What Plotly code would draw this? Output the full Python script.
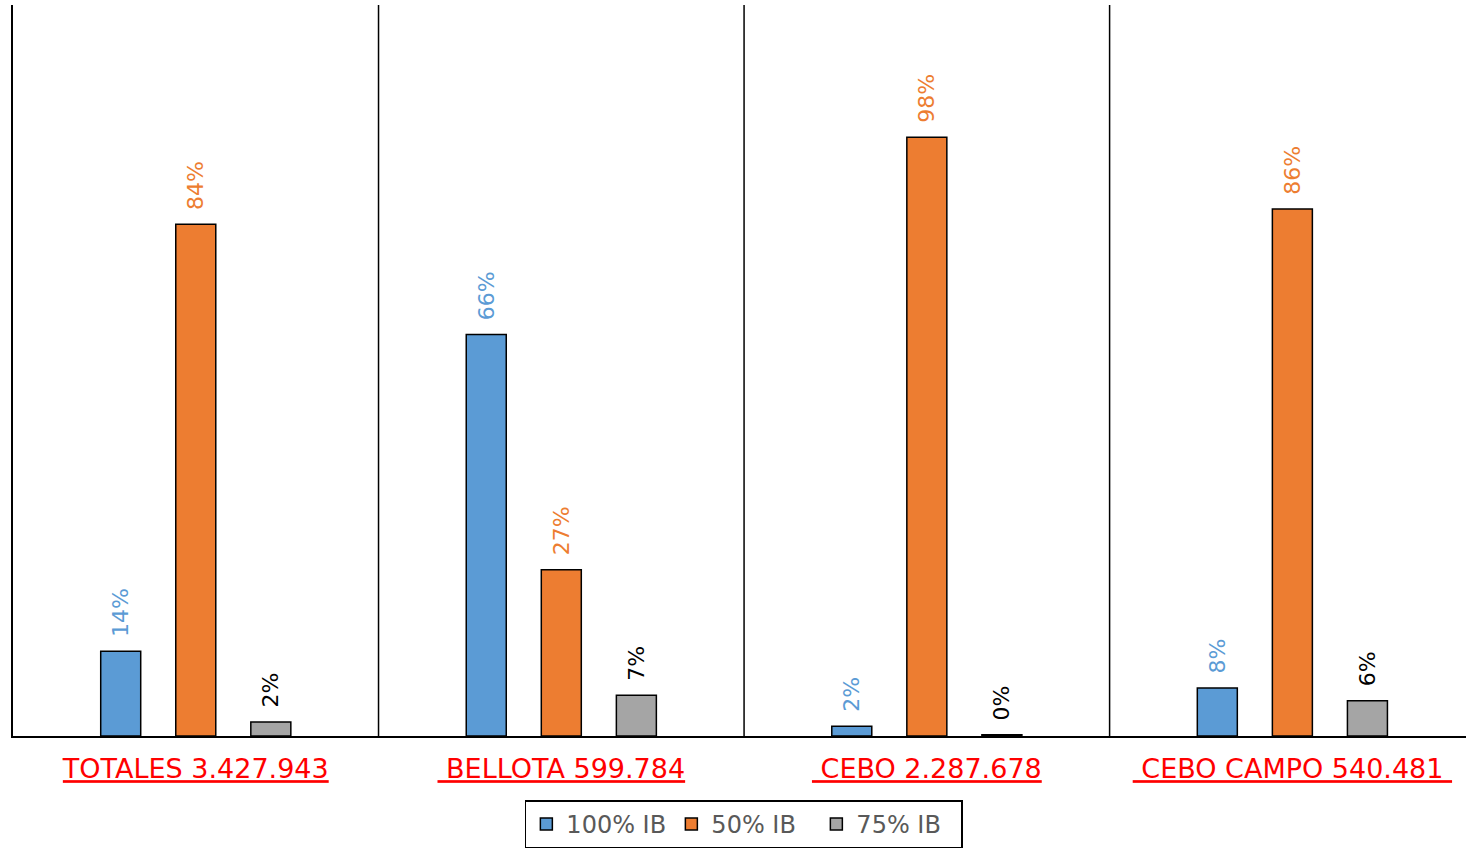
import plotly.graph_objects as go

categories = ["TOTALES 3.427.943", "\u00a0BELLOTA 599.784", "\u00a0CEBO 2.287.678", "\u00a0CEBO CAMPO 540.481\u00a0"]
series_names = ["100% IB", "50% IB", "75% IB"]
values_100 = [13.9, 65.9, 1.6, 7.9]
values_50 = [84.0, 27.3, 98.3, 86.5]
values_75 = [2.3, 6.7, 0.2, 5.8]
labels_100 = ["14%", "66%", "2%", "8%"]
labels_50 = ["84%", "27%", "98%", "86%"]
labels_75 = ["2%", "7%", "0%", "6%"]

colors = ["#5B9BD5", "#ED7D31", "#A5A5A5"]
text_colors = ["#5B9BD5", "#ED7D31", "#000000"]
FONT = "DejaVu Sans"

fig = go.Figure()
for name, vals, labs, col, tcol in zip(series_names, [values_100, values_50, values_75],
                                       [labels_100, labels_50, labels_75], colors, text_colors):
    fig.add_trace(go.Bar(
        x=categories, y=vals, name=name,
        marker=dict(color=col, line=dict(color="black", width=1.5)),
        text=["\u00a0\u2009" + t for t in labs],
        textposition="outside", textangle=-90, constraintext="none",
        textfont=dict(family=FONT, size=22, color=tcol),
        cliponaxis=False,
    ))

# group separators
for xpos in [0.5, 1.5, 2.5]:
    fig.add_shape(type="line", xref="x", yref="paper", x0=xpos, x1=xpos, y0=0, y1=1,
                  line=dict(color="black", width=1.5))

fig.update_layout(
    width=1466, height=850,
    margin=dict(l=13, r=0, t=5, b=114),
    plot_bgcolor="white", paper_bgcolor="white",
    barmode="group", bargap=0.384, bargroupgap=0.467,
    font=dict(family=FONT),
    showlegend=True,
    legend=dict(orientation="h", x=0.503, xanchor="center", y=-0.088, yanchor="top",
                bordercolor="black", borderwidth=1.5,
                font=dict(family=FONT, size=24, color="#595959"),
                itemwidth=30, entrywidth=100, traceorder="normal"),
    xaxis=dict(range=[-0.5, 3.475], showline=True, linecolor="black", linewidth=1.5,
               showgrid=False, ticks="", ticklabelstandoff=8,
               tickfont=dict(family=FONT, size=27, color="#FF0000", lineposition="under")),
    yaxis=dict(range=[0, 120], showline=True, linecolor="black", linewidth=1.5,
               showgrid=False, showticklabels=False, ticks="", zeroline=False),
)

fig.write_html("out.html", config={"displayModeBar": False},
               post_script="document.body.style.margin='0';")
